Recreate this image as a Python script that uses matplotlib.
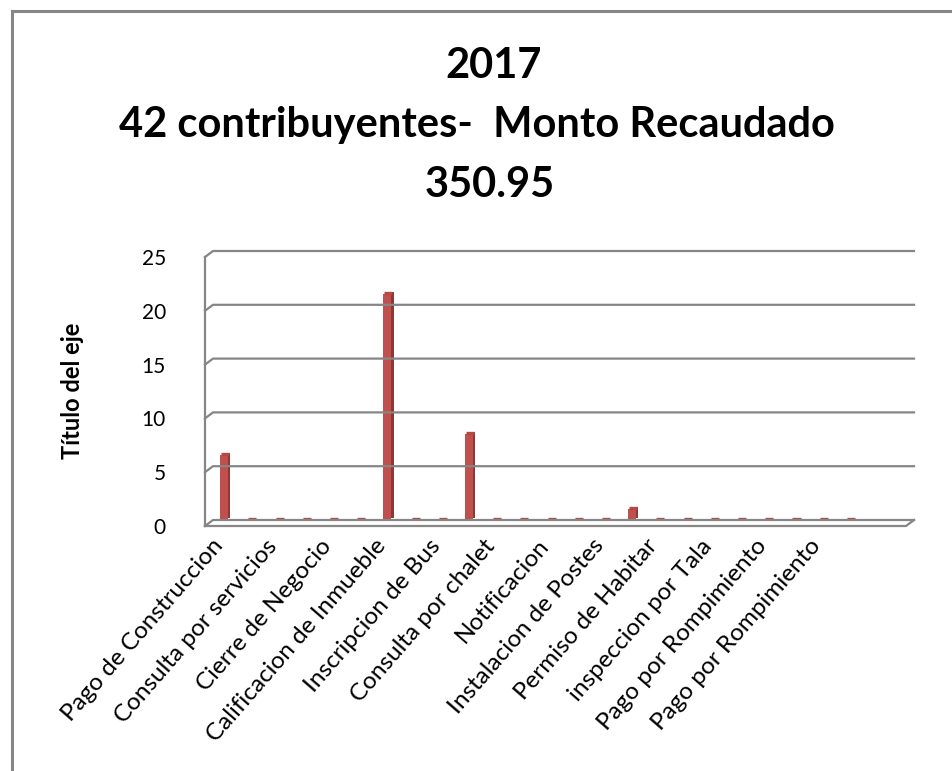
import numpy as np
import matplotlib.pyplot as plt
import matplotlib.transforms as mtransforms
from matplotlib.lines import Line2D
from matplotlib.patches import Rectangle

plt.rcParams['font.family'] = ['Lato', 'DejaVu Sans']

# datos
etiquetas = ['Pago de Construccion', 'Consulta por servicios', 'Cierre de Negocio',
             'Calificacion de Inmueble', 'Inscripcion de Bus', 'Consulta por chalet',
             'Notificacion', 'Instalacion de Postes', 'Permiso de Habitar',
             'inspeccion por Tala', 'Pago por Rompimiento', 'Pago por Rompimiento']
valores = [6, 0, 0, 0, 0, 0, 21, 0, 0, 8, 0, 0,
           0, 0, 0, 1, 0, 0, 0, 0, 0, 0, 0, 0]
yticks = [0, 5, 10, 15, 20, 25]

W, H = 952, 771
fig = plt.figure(figsize=(W / 100, H / 100), dpi=100)
ax = fig.add_axes([213 / W, 1 - 520 / H, (914 - 213) / W, (520 - 251) / H])

gris = '#868686'
rojo = '#C0504D'
x = np.arange(len(valores))
ancho = 0.3

ax.set_xlim(-0.4, 25.37)
ax.set_ylim(0, 25)
for s in ax.spines.values():
    s.set_visible(False)

# paredes 3D: lineas de la rejilla con el lado izquierdo inclinado
px = lambda xx, yy: ax.transData.transform((xx, yy))
ident = mtransforms.IdentityTransform()
dx, dy = -8, -6
for t in yticks:
    x0, y0 = px(-0.4, t)
    x1, y1 = px(25.37, t)
    fig.add_artist(Line2D([x0 + dx, x0, x1], [y0 + dy, y0, y1], color=gris, lw=1.6,
                          transform=ident))
x0, ytop = px(-0.4, 25)
_, ybot = px(-0.4, 0)
x1, _ = px(25.37, 0)
fig.add_artist(Line2D([x0 + dx, x0 + dx], [ytop + dy, ybot + dy], color=gris, lw=1.6,
                      transform=ident))
fig.add_artist(Line2D([x0 + dx, x1 + dx, x1], [ybot + dy, ybot + dy, ybot], color=gris, lw=1.6,
                      transform=ident))

# barras con efecto 3D
lado = ax.transData + mtransforms.Affine2D().translate(2.5, 2)
ax.bar(x, valores, width=ancho, color='#8C3836', transform=lado, zorder=3)
ax.bar(x, valores, width=ancho, color=rojo, zorder=4)
tapa = ax.transData + mtransforms.Affine2D().translate(1.3, 1.2)
ax.hlines(valores, x - ancho / 2, x + ancho / 2, colors='#B54744', lw=2.4,
          transform=tapa, zorder=5)

ax.set_yticks(yticks)
ax.set_xticks(x[::2])
ax.set_xticklabels(etiquetas, rotation=49, ha='right', va='top', rotation_mode='anchor',
                   fontsize=17.5)
ax.tick_params(axis='both', length=0)
ax.tick_params(axis='y', pad=34, labelsize=15)
ax.tick_params(axis='x', pad=11)
for lab in ax.get_yticklabels():
    lab.set_transform(lab.get_transform() + mtransforms.Affine2D().translate(0, -6))
for lab in ax.get_xticklabels():
    lab.set_transform(lab.get_transform() + mtransforms.Affine2D().translate(-13, 0))

fig.text(72 / W, 1 - 391 / H, 'Título del eje', rotation=90, ha='center', va='center',
         fontsize=17, fontweight='bold')

fig.text(494 / W, 1 - 78 / H, '2017', ha='center', va='baseline', fontsize=30, fontweight='bold')
fig.text(477 / W, 1 - 137 / H, '42 contribuyentes-  Monto Recaudado', ha='center',
         va='baseline', fontsize=30, fontweight='bold')
fig.text(490 / W, 1 - 197 / H, '350.95', ha='center', va='baseline', fontsize=30,
         fontweight='bold')

fig.add_artist(Rectangle((12 / W, -0.05), 1.2, 1 - 11 / H + 0.05, fill=False,
                         edgecolor=gris, lw=2.2, transform=fig.transFigure))

fig.savefig('out.png', dpi=100)
